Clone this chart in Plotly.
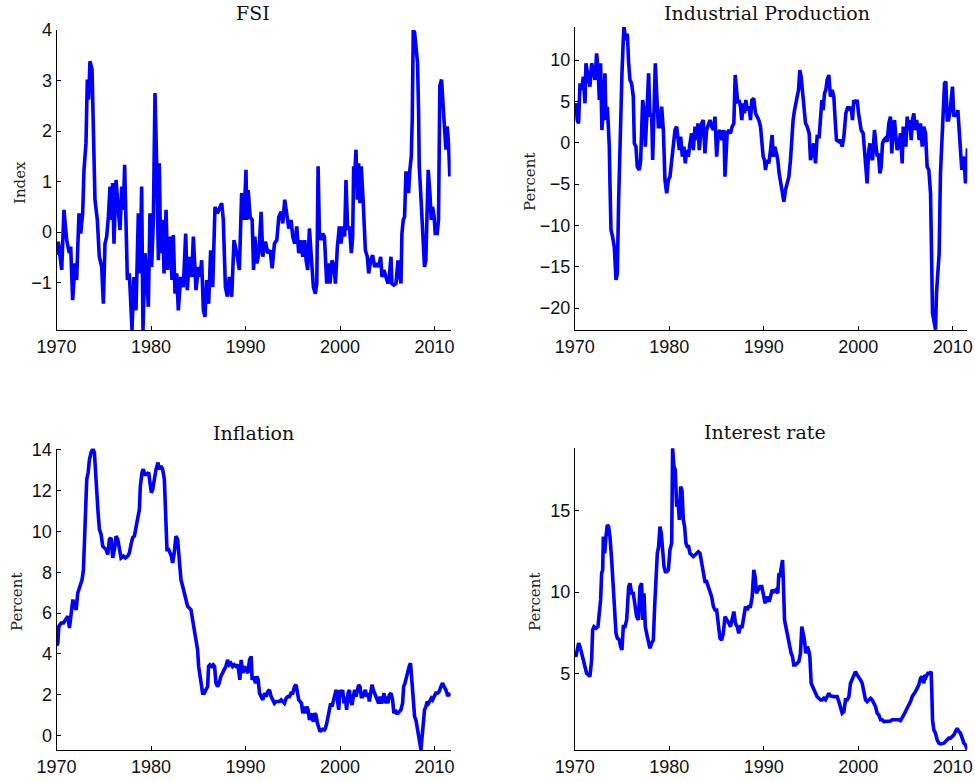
import plotly.graph_objects as go

# ---------------- data ----------------
fsi_year = [1970.0, 1970.19, 1970.55, 1970.79, 1971.08, 1971.36, 1971.5, 1971.71, 1971.96, 1972.13, 1972.38,
            1972.56, 1972.77, 1972.91, 1973.12, 1973.26, 1973.4, 1973.54, 1973.76, 1973.9, 1974.07,
            1974.32, 1974.53, 1974.78, 1974.96, 1975.13, 1975.31, 1975.49, 1975.66, 1975.84, 1975.94,
            1976.08, 1976.3, 1976.51, 1976.72, 1976.9, 1977.07, 1977.21, 1977.35, 1977.5, 1977.71,
            1977.85, 1977.99, 1978.2, 1978.41, 1978.66, 1978.84, 1979.01, 1979.15, 1979.37, 1979.54,
            1979.72, 1979.89, 1980.07, 1980.25, 1980.42, 1980.6, 1980.78, 1980.88, 1981.02, 1981.23,
            1981.38, 1981.59, 1981.76, 1982.01, 1982.22, 1982.36, 1982.54, 1982.72, 1982.89, 1983.14,
            1983.42, 1983.67, 1983.84, 1984.06, 1984.3, 1984.48, 1984.76, 1985.01, 1985.18, 1985.36,
            1985.54, 1985.71, 1985.89, 1986.1, 1986.31, 1986.53, 1986.77, 1987.02, 1987.23, 1987.48,
            1987.65, 1987.87, 1988.08, 1988.29, 1988.54, 1988.78, 1989.07, 1989.35, 1989.59, 1989.84,
            1990.05, 1990.14, 1990.28, 1990.49, 1990.7, 1990.85, 1990.99, 1991.2, 1991.41, 1991.65,
            1991.83, 1992.11, 1992.36, 1992.6, 1992.82, 1993.06, 1993.31, 1993.52, 1993.77, 1993.94,
            1994.15, 1994.37, 1994.58, 1994.82, 1995.0, 1995.21, 1995.42, 1995.63, 1995.85, 1996.06,
            1996.27, 1996.41, 1996.58, 1996.76, 1996.97, 1997.18, 1997.39, 1997.54, 1997.68, 1997.82,
            1997.99, 1998.17, 1998.35, 1998.45, 1998.59, 1998.8, 1998.94, 1999.15, 1999.37, 1999.51,
            1999.72, 1999.93, 2000.11, 2000.28, 2000.49, 2000.63, 2000.81, 2000.99, 2001.2, 2001.34,
            2001.44, 2001.58, 2001.69, 2001.83, 2001.97, 2002.11, 2002.25, 2002.46, 2002.57, 2002.68,
            2002.89, 2003.03, 2003.24, 2003.45, 2003.66, 2003.87, 2004.08, 2004.3, 2004.44, 2004.65,
            2004.86, 2005.07, 2005.21, 2005.39, 2005.49, 2005.7, 2005.92, 2006.13, 2006.27, 2006.45,
            2006.55, 2006.69, 2006.83, 2006.97, 2007.15, 2007.25, 2007.39, 2007.54, 2007.64, 2007.75,
            2007.89, 2008.03, 2008.2, 2008.31, 2008.38, 2008.52, 2008.66, 2008.8, 2008.94, 2009.08,
            2009.19, 2009.33, 2009.51, 2009.65, 2009.79, 2009.96, 2010.07, 2010.28, 2010.42, 2010.56,
            2010.74, 2010.92, 2011.09, 2011.2, 2011.34, 2011.48, 2011.62]
fsi_value = [-0.45, -0.19, -0.75, 0.44, -0.16, -0.42, -0.29, -1.35, -0.62, -0.95, 0.37,
             -0.03, 0.37, 1.23, 1.76, 3.02, 2.62, 3.38, 3.22, 2.23, 0.64,
             0.24, -0.49, -0.69, -1.42, -0.23, -0.09, 0.3, 0.9, 0.24, 0.97,
             -0.23, 1.03, 0.5, 0.04, 0.9, 0.44, 1.33, 0.24, -0.95, -0.82,
             -1.42, -1.94, -0.89, -1.55, 0.37, -0.82, 0.9, -1.94, -0.42, -1.09,
             -1.48, 0.37, -0.69, 0.24, 2.75, 1.36, -0.56, 1.36, -0.42, 0.24,
             -0.82, 0.44, -0.75, -0.09, -0.95, -0.06, -1.22, -0.82, -1.55, -0.89,
             -1.09, -0.03, -1.15, -0.49, -0.89, -0.09, -1.15, -0.69, -0.89, -0.56,
             -1.55, -1.68, -0.95, -1.42, -0.36, -1.09, 0.5, 0.37, 0.47, 0.57,
             0.24, -1.09, -1.28, -0.89, -1.28, -0.16, -0.42, -0.75, 0.77, 0.24,
             1.23, 0.24, 0.83, 0.3, 0.24, -0.75, -0.09, -0.62, -0.42, 0.4,
             -0.49, -0.19, -0.42, -0.36, -0.72, -0.23, -0.16, 0.3, 0.4, 0.17,
             0.64, 0.3, 0.07, 0.24, -0.09, -0.23, 0.11, -0.42, -0.16, -0.49,
             -0.16, -0.56, -0.75, 0.07, -0.56, -1.09, -1.22, -1.02, 1.3, -0.03,
             -0.16, -0.03, -0.09, -0.56, -1.02, -0.62, -1.02, -0.56, -0.69, -1.02,
             -0.29, 0.11, -0.23, 0.11, -0.09, 1.03, 0.04, 0.11, -0.42, -0.09,
             1.3, 1.23, 1.63, 0.64, 1.36, 0.57, 1.3, 0.57, 0.04, -0.36,
             -0.49, -0.82, -0.56, -0.46, -0.69, -0.62, -0.69, -0.49, -0.89, -0.75,
             -0.89, -1.02, -0.89, -0.49, -1.02, -1.05, -1.02, -0.56, -0.82, -1.02,
             -0.03, 0.24, 0.3, 1.17, 1.17, 0.77, 1.23, 1.5, 2.23, 4.0,
             3.95, 3.68, 3.35, 2.42, 1.3, 0.83, 0.24, -0.42, -0.69, -0.56,
             0.11, 1.23, 0.77, 0.24, 0.5, 0.3, -0.03, -0.03, 0.24, 2.89,
             3.02, 2.49, 2.03, 1.63, 2.09, 1.76, 1.1]

ip_year = [1970.0, 1970.12, 1970.26, 1970.4, 1970.55, 1970.72, 1970.9, 1971.08, 1971.18, 1971.43, 1971.6,
           1971.78, 1971.96, 1972.13, 1972.31, 1972.49, 1972.59, 1972.73, 1972.87, 1973.02, 1973.19,
           1973.3, 1973.44, 1973.55, 1973.65, 1973.72, 1973.83, 1974.0, 1974.18, 1974.36, 1974.5,
           1974.64, 1974.85, 1974.99, 1975.13, 1975.2, 1975.41, 1975.56, 1975.7, 1975.84, 1976.01,
           1976.19, 1976.3, 1976.47, 1976.61, 1976.83, 1976.97, 1977.18, 1977.32, 1977.46, 1977.6,
           1977.81, 1977.95, 1978.13, 1978.24, 1978.38, 1978.52, 1978.66, 1978.84, 1979.01, 1979.19,
           1979.37, 1979.54, 1979.72, 1979.9, 1980.07, 1980.25, 1980.42, 1980.6, 1980.78, 1980.95,
           1981.06, 1981.2, 1981.38, 1981.55, 1981.69, 1981.84, 1982.01, 1982.19, 1982.36, 1982.54,
           1982.72, 1982.9, 1983.03, 1983.17, 1983.42, 1983.6, 1983.77, 1983.95, 1984.13, 1984.3,
           1984.48, 1984.66, 1984.83, 1985.01, 1985.19, 1985.36, 1985.57, 1985.78, 1985.89, 1986.12,
           1986.3, 1986.47, 1986.65, 1986.83, 1986.97, 1987.11, 1987.25, 1987.39, 1987.53, 1987.67,
           1987.81, 1987.95, 1988.1, 1988.24, 1988.45, 1988.59, 1988.73, 1988.94, 1989.12, 1989.29,
           1989.47, 1989.65, 1989.79, 1989.93, 1990.07, 1990.18, 1990.35, 1990.53, 1990.71, 1990.88,
           1990.99, 1991.16, 1991.34, 1991.48, 1991.62, 1991.83, 1991.98, 1992.12, 1992.29, 1992.47,
           1992.65, 1992.82, 1992.96, 1993.1, 1993.25, 1993.39, 1993.53, 1993.67, 1993.81, 1993.95,
           1994.09, 1994.23, 1994.41, 1994.59, 1994.8, 1994.94, 1995.11, 1995.29, 1995.47, 1995.64,
           1995.86, 1996.0, 1996.14, 1996.28, 1996.42, 1996.56, 1996.7, 1996.88, 1997.05, 1997.23,
           1997.41, 1997.55, 1997.69, 1997.94, 1998.11, 1998.29, 1998.47, 1998.68, 1998.89, 1999.1,
           1999.24, 1999.38, 1999.52, 1999.7, 1999.88, 2000.02, 2000.16, 2000.3, 2000.51, 2000.65,
           2000.79, 2000.93, 2001.08, 2001.22, 2001.36, 2001.5, 2001.71, 2001.85, 2001.99, 2002.13,
           2002.28, 2002.42, 2002.56, 2002.7, 2002.87, 2003.05, 2003.23, 2003.4, 2003.54, 2003.69,
           2003.83, 2003.97, 2004.11, 2004.29, 2004.46, 2004.64, 2004.75, 2004.89, 2005.03, 2005.17,
           2005.31, 2005.45, 2005.59, 2005.73, 2005.87, 2006.01, 2006.16, 2006.3, 2006.44, 2006.58,
           2006.76, 2006.93, 2007.11, 2007.28, 2007.46, 2007.64, 2007.74, 2007.85, 2007.99, 2008.17,
           2008.27, 2008.41, 2008.55, 2008.69, 2008.84, 2008.98, 2009.12, 2009.26, 2009.4, 2009.54,
           2009.68, 2009.82, 2009.96, 2010.11, 2010.25, 2010.39, 2010.53, 2010.67, 2010.81, 2010.95,
           2011.09, 2011.23, 2011.34, 2011.45, 2011.55]
ip_value = [4.3, 4.76, 2.74, 2.34, 7.18, 6.37, 7.98, 4.76, 9.6, 7.58, 6.77,
            9.6, 8.79, 7.58, 10.8, 8.39, 5.16, 9.6, 1.53, 4.35, 8.39,
            2.74, 4.35, 1.94, -0.48, -4.92, -10.56, -11.4, -12.6, -16.6, -15.8,
            -6.9, 3.95, 8.39, 12.4, 14.0, 12.4, 13.2, 9.6, 7.58, 7.18,
            5.56, -0.08, -0.48, -2.9, -3.3, -2.1, 5.16, 3.95, -0.48, 2.74,
            8.39, 3.15, 3.55, -2.1, 6.77, 9.6, 5.97, 1.94, 1.94, 4.35,
            1.53, -4.52, -6.13, -4.52, -4.11, -2.1, -0.08, 1.53, 1.94, 0.32,
            -0.89, 0.73, -1.69, -0.48, -2.5, -0.89, -1.69, -0.08, 1.13, -0.89,
            1.94, 0.32, 2.34, -0.89, 2.34, 2.74, -1.29, 1.53, 2.34, 2.74,
            1.94, 1.53, 3.15, -1.69, 1.13, 1.53, 0.32, 1.53, -4.11, 1.13,
            1.53, 1.13, 1.94, 2.34, 8.19, 5.97, 4.76, 5.16, 4.35, 2.74,
            4.76, 3.55, 5.16, 3.95, 4.35, 2.74, 5.16, 5.36, 3.55, 3.15,
            2.74, 1.94, 0.32, -1.69, -2.1, -3.3, -2.1, -2.5, -0.89, 0.93,
            -1.69, -0.48, -1.29, -2.1, -3.71, -5.32, -6.13, -7.14, -5.73, -4.92,
            -4.11, -2.1, 0.73, 2.74, 3.95, 5.16, 5.56, 6.37, 8.79, 7.98,
            6.17, 4.35, 2.34, 1.94, 1.13, -2.1, -1.29, -0.08, -2.5, 0.73,
            0.73, 3.15, 5.16, 3.95, 5.97, 6.37, 7.58, 8.19, 5.56, 6.37,
            5.56, 2.74, 0.32, 0.12, 0.32, -0.48, 0.73, 3.55, 4.35, 3.95,
            4.35, 2.74, 5.16, 4.76, 5.16, 3.55, 2.74, 1.53, 1.13, -1.29,
            -2.1, -4.92, -1.29, -0.08, -1.69, -2.1, 1.53, -0.89, -1.69, -1.29,
            -3.71, -2.9, -0.08, 0.32, 0.52, 0.12, 2.34, 3.15, -1.29, 1.94,
            2.74, 0.73, -0.89, -0.08, 1.13, -2.5, 1.94, 1.13, -0.48, 3.15,
            1.53, 2.74, 0.32, 2.74, 3.55, 1.53, 2.74, 1.94, 0.32, 2.34,
            -0.48, 1.94, 1.13, -2.9, -3.3, -6.13, -11.4, -20.6, -21.5, -22.6,
            -18.2, -15.8, -13.4, -3.71, 0.73, 3.15, 7.18, 7.38, 2.74, 2.74,
            3.55, 5.16, 6.77, 3.15, 3.55, 3.15, 3.95, 1.53, -0.48, -3.3,
            -1.69, -2.5, -4.92, -2.1, -0.69]

infl_year = [1970.0, 1970.14, 1970.25, 1970.49, 1970.74, 1971.02, 1971.2, 1971.37, 1971.55, 1971.73, 1971.9,
             1972.08, 1972.25, 1972.5, 1972.71, 1972.85, 1972.96, 1973.06, 1973.2, 1973.35, 1973.49,
             1973.66, 1973.84, 1974.01, 1974.12, 1974.26, 1974.4, 1974.54, 1974.72, 1974.89, 1975.07,
             1975.25, 1975.42, 1975.6, 1975.77, 1975.95, 1976.13, 1976.3, 1976.48, 1976.65, 1976.83,
             1977.08, 1977.29, 1977.54, 1977.71, 1977.92, 1978.06, 1978.24, 1978.42, 1978.59, 1978.77,
             1978.87, 1979.05, 1979.19, 1979.33, 1979.54, 1979.75, 1979.89, 1980.04, 1980.18, 1980.35,
             1980.53, 1980.74, 1980.88, 1981.06, 1981.23, 1981.41, 1981.51, 1981.58, 1981.69, 1981.87,
             1982.01, 1982.15, 1982.29, 1982.46, 1982.64, 1982.82, 1982.99, 1983.17, 1983.35, 1983.52,
             1983.7, 1983.87, 1984.05, 1984.23, 1984.4, 1984.58, 1984.75, 1984.93, 1985.04, 1985.18,
             1985.32, 1985.46, 1985.63, 1985.81, 1985.99, 1986.09, 1986.23, 1986.44, 1986.58, 1986.73,
             1986.87, 1987.04, 1987.22, 1987.39, 1987.57, 1987.75, 1987.92, 1988.1, 1988.27, 1988.45,
             1988.63, 1988.8, 1988.98, 1989.19, 1989.4, 1989.54, 1989.72, 1989.89, 1990.07, 1990.25,
             1990.42, 1990.6, 1990.7, 1990.85, 1991.06, 1991.2, 1991.34, 1991.48, 1991.65, 1991.83,
             1992.01, 1992.18, 1992.36, 1992.54, 1992.71, 1992.89, 1993.06, 1993.24, 1993.42, 1993.59,
             1993.77, 1993.94, 1994.12, 1994.3, 1994.47, 1994.65, 1994.82, 1995.0, 1995.18, 1995.35,
             1995.53, 1995.63, 1995.77, 1995.92, 1996.06, 1996.2, 1996.34, 1996.48, 1996.62, 1996.76,
             1996.9, 1997.04, 1997.18, 1997.32, 1997.46, 1997.61, 1997.75, 1997.89, 1998.03, 1998.17,
             1998.35, 1998.45, 1998.59, 1998.73, 1998.87, 1999.01, 1999.15, 1999.3, 1999.44, 1999.58,
             1999.72, 1999.86, 2000.0, 2000.14, 2000.28, 2000.42, 2000.56, 2000.7, 2000.85, 2000.99,
             2001.13, 2001.27, 2001.41, 2001.55, 2001.69, 2001.83, 2001.97, 2002.11, 2002.25, 2002.39,
             2002.54, 2002.68, 2002.82, 2002.96, 2003.1, 2003.24, 2003.38, 2003.52, 2003.66, 2003.8,
             2003.94, 2004.08, 2004.23, 2004.37, 2004.51, 2004.65, 2004.79, 2004.93, 2005.07, 2005.21,
             2005.39, 2005.56, 2005.7, 2005.85, 2005.99, 2006.13, 2006.27, 2006.44, 2006.62, 2006.73,
             2006.87, 2007.04, 2007.18, 2007.32, 2007.46, 2007.57, 2007.68, 2007.75, 2007.89, 2008.03,
             2008.17, 2008.31, 2008.45, 2008.56, 2008.66, 2008.8, 2008.94, 2009.08, 2009.23, 2009.37,
             2009.51, 2009.65, 2009.79, 2009.96, 2010.14, 2010.32, 2010.49, 2010.67, 2010.85, 2011.02,
             2011.2, 2011.37, 2011.55, 2011.68]
infl_value = [4.4, 4.52, 5.34, 5.51, 5.51, 5.75, 5.84, 5.26, 6.0, 6.66, 6.33,
              6.16, 6.98, 7.31, 7.64, 8.13, 9.93, 10.92, 12.56, 12.89, 13.54,
              13.87, 14.07, 13.87, 12.89, 11.41, 10.92, 10.1, 9.85, 9.28, 9.2,
              9.11, 8.87, 9.61, 9.69, 8.7, 9.11, 9.77, 9.61, 9.11, 8.7,
              8.79, 8.7, 8.79, 8.95, 9.44, 9.69, 9.77, 10.26, 10.59, 11.08,
              12.23, 12.89, 13.05, 12.8, 12.8, 12.89, 12.39, 11.9, 12.07, 12.56,
              13.05, 13.38, 13.05, 13.21, 13.05, 12.56, 11.25, 9.77, 9.11, 9.11,
              8.95, 8.79, 8.46, 8.95, 9.77, 9.61, 8.62, 7.64, 7.31, 6.98,
              6.66, 6.33, 6.25, 6.16, 5.67, 5.18, 4.69, 4.2, 3.38, 2.89,
              2.39, 2.07, 2.07, 2.23, 2.39, 3.38, 3.46, 3.38, 3.46, 3.38,
              2.56, 2.39, 2.56, 2.89, 3.05, 3.21, 3.38, 3.7, 3.46, 3.54,
              3.38, 3.46, 3.38, 3.46, 2.72, 3.7, 3.05, 3.38, 3.21, 3.05,
              3.7, 3.87, 2.72, 2.89, 2.56, 2.89, 2.72, 2.07, 1.9, 1.74,
              2.07, 1.9, 2.15, 2.23, 1.9, 1.74, 1.57, 1.66, 1.66, 1.66,
              1.74, 1.66, 1.57, 1.82, 1.9, 1.9, 2.07, 2.07, 2.39, 2.48,
              2.07, 1.74, 1.66, 1.57, 1.08, 1.41, 1.08, 1.41, 1.25, 0.75,
              1.08, 0.84, 0.67, 1.08, 1.0, 0.59, 0.34, 0.18, 0.26, 0.3,
              0.26, 0.34, 0.59, 0.92, 1.41, 1.57, 1.41, 1.66, 1.9, 2.23,
              1.74, 1.25, 2.23, 1.98, 2.23, 1.57, 1.9, 1.25, 2.07, 2.23,
              1.66, 1.49, 1.9, 2.23, 1.9, 2.23, 2.48, 2.39, 1.9, 1.9,
              2.07, 2.23, 1.9, 2.07, 1.66, 2.07, 2.48, 2.23, 2.07, 1.9,
              1.74, 1.57, 1.9, 1.57, 1.74, 2.07, 1.57, 1.9, 1.57, 1.98,
              2.07, 1.74, 1.08, 1.25, 1.08, 1.08, 1.16, 1.25, 1.57, 2.39,
              2.56, 2.89, 3.21, 3.38, 3.54, 2.89, 2.72, 1.9, 0.92, 0.75,
              0.26, -0.07, -0.39, -0.72, -0.23, 0.92, 1.25, 1.41, 1.66, 1.57,
              1.66, 1.82, 1.74, 1.9, 2.07, 2.07, 2.15, 2.39, 2.56, 2.39,
              2.23, 1.98, 1.98, 2.07]

rate_year = [1970.0, 1970.12, 1970.26, 1970.41, 1970.55, 1970.72, 1970.9, 1971.08, 1971.25, 1971.43, 1971.6,
             1971.78, 1971.89, 1972.03, 1972.24, 1972.45, 1972.59, 1972.73, 1972.84, 1972.95, 1973.02,
             1973.16, 1973.3, 1973.44, 1973.58, 1973.72, 1973.9, 1974.07, 1974.25, 1974.36, 1974.5,
             1974.71, 1974.85, 1974.99, 1975.13, 1975.31, 1975.49, 1975.59, 1975.7, 1975.84, 1976.01,
             1976.19, 1976.37, 1976.54, 1976.72, 1976.9, 1977.07, 1977.18, 1977.32, 1977.46, 1977.6,
             1977.78, 1977.95, 1978.13, 1978.31, 1978.45, 1978.59, 1978.73, 1978.87, 1979.01, 1979.15,
             1979.3, 1979.44, 1979.58, 1979.72, 1979.9, 1980.07, 1980.25, 1980.35, 1980.49, 1980.63,
             1980.78, 1980.92, 1981.06, 1981.2, 1981.34, 1981.48, 1981.62, 1981.76, 1981.9, 1982.05,
             1982.19, 1982.36, 1982.54, 1982.72, 1982.9, 1983.07, 1983.25, 1983.42, 1983.6, 1983.77,
             1983.95, 1984.13, 1984.3, 1984.48, 1984.66, 1984.83, 1985.01, 1985.19, 1985.36, 1985.54,
             1985.71, 1985.89, 1986.12, 1986.3, 1986.47, 1986.65, 1986.83, 1987.0, 1987.18, 1987.35,
             1987.53, 1987.71, 1987.88, 1988.06, 1988.24, 1988.41, 1988.59, 1988.77, 1988.94, 1989.08,
             1989.22, 1989.37, 1989.58, 1989.79, 1989.93, 1990.14, 1990.35, 1990.56, 1990.71, 1990.88,
             1991.06, 1991.27, 1991.48, 1991.59, 1991.69, 1991.83, 1991.98, 1992.05, 1992.12, 1992.19,
             1992.33, 1992.47, 1992.61, 1992.75, 1992.89, 1993.03, 1993.17, 1993.35, 1993.53, 1993.7,
             1993.88, 1994.02, 1994.16, 1994.3, 1994.44, 1994.59, 1994.73, 1994.87, 1995.01, 1995.15,
             1995.29, 1995.47, 1995.64, 1995.82, 1996.0, 1996.17, 1996.35, 1996.53, 1996.7, 1996.88,
             1997.05, 1997.23, 1997.41, 1997.58, 1997.76, 1997.94, 1998.11, 1998.29, 1998.47, 1998.64,
             1998.82, 1999.0, 1999.17, 1999.35, 1999.52, 1999.7, 1999.88, 2000.05, 2000.23, 2000.41,
             2000.58, 2000.76, 2000.93, 2001.11, 2001.29, 2001.46, 2001.64, 2001.82, 2001.99, 2002.17,
             2002.35, 2002.52, 2002.7, 2002.87, 2003.05, 2003.23, 2003.4, 2003.58, 2003.76, 2003.93,
             2004.11, 2004.29, 2004.46, 2004.64, 2004.81, 2004.99, 2005.17, 2005.34, 2005.52, 2005.7,
             2005.87, 2006.05, 2006.23, 2006.4, 2006.58, 2006.76, 2006.93, 2007.04, 2007.18, 2007.35,
             2007.56, 2007.7, 2007.78, 2007.85, 2007.99, 2008.17, 2008.34, 2008.52, 2008.69, 2008.87,
             2009.05, 2009.22, 2009.4, 2009.58, 2009.75, 2009.93, 2010.11, 2010.28, 2010.46, 2010.64,
             2010.81, 2010.99, 2011.17, 2011.34, 2011.52]
rate_value = [6.2, 6.03, 6.44, 6.85, 6.64, 6.23, 5.82, 5.41, 5.0, 4.9, 4.79,
              5.82, 7.67, 7.87, 7.77, 7.87, 8.9, 9.52, 11.16, 11.37, 13.42,
              12.39, 13.42, 14.14, 14.03, 13.42, 11.98, 10.34, 8.7, 7.46, 7.16,
              7.05, 6.64, 6.44, 7.87, 7.87, 8.29, 9.52, 10.34, 10.54, 9.93,
              9.93, 9.11, 8.49, 8.29, 10.34, 10.54, 8.29, 9.93, 7.87, 7.46,
              7.05, 6.54, 6.85, 7.05, 9.11, 11.16, 12.39, 12.8, 14.03, 13.62,
              12.39, 11.57, 11.26, 11.26, 11.37, 12.6, 13.01, 18.86, 17.73, 17.53,
              15.27, 15.68, 14.45, 16.5, 16.29, 14.45, 14.03, 13.01, 12.8, 12.8,
              12.39, 12.29, 12.19, 12.29, 12.39, 12.49, 12.39, 11.78, 10.95, 10.65,
              10.65, 10.34, 10.13, 9.72, 9.11, 8.9, 8.9, 7.87, 7.16, 7.05,
              7.46, 8.49, 8.29, 8.08, 7.87, 8.29, 8.8, 8.08, 7.87, 7.46,
              7.87, 7.87, 8.49, 9.11, 8.9, 9.11, 9.11, 9.72, 11.37, 10.95,
              9.93, 10.13, 10.34, 10.34, 9.93, 9.31, 9.72, 9.41, 9.72, 10.13,
              10.03, 10.13, 9.93, 11.16, 10.95, 11.57, 11.98, 10.95, 9.11, 8.29,
              7.87, 7.46, 7.05, 6.44, 6.23, 6.03, 5.51, 5.51, 5.62, 5.72,
              6.23, 7.87, 7.46, 7.05, 6.23, 6.64, 6.44, 6.03, 4.38, 4.18,
              3.97, 3.77, 3.56, 3.46, 3.36, 3.36, 3.46, 3.36, 3.56, 3.77,
              3.6, 3.56, 3.56, 3.56, 3.56, 3.25, 2.95, 2.54, 2.64, 3.36,
              3.36, 3.56, 4.38, 4.59, 4.9, 5.1, 4.9, 4.69, 4.59, 4.38,
              3.97, 3.36, 3.25, 3.36, 3.46, 3.36, 3.15, 2.95, 2.54, 2.43,
              2.13, 2.13, 2.02, 2.02, 2.02, 2.02, 2.06, 2.13, 2.13, 2.17,
              2.13, 2.13, 2.08, 2.23, 2.43, 2.64, 2.84, 3.05, 3.25, 3.56,
              3.77, 3.87, 4.08, 4.28, 4.69, 4.79, 4.38, 4.9, 4.79, 5.0,
              5.0, 5.1, 3.77, 2.13, 1.51, 1.3, 0.89, 0.69, 0.65, 0.65,
              0.69, 0.79, 0.89, 1.0, 1.0, 1.1, 1.2, 1.41, 1.61, 1.41,
              1.3, 1.0, 0.69, 0.59, 0.3]

titles = ["FSI", "Industrial Production", "Inflation", "Interest rate"]
ylabels = ["Index", "Percent", "Percent", "Percent"]
x_ticks = [1970, 1980, 1990, 2000, 2010]
y_ticks = [[-1, 0, 1, 2, 3, 4],
           [-20, -15, -10, -5, 0, 5, 10],
           [0, 2, 4, 6, 8, 10, 12, 14],
           [5, 10, 15]]

# ---------------- layout ----------------
W, H = 975, 782
# page-pixel boxes: (left, right, top, bottom)
boxes = [(56.5, 450.7, 30, 330), (574.8, 967.3, 27, 330),
         (56.5, 450.7, 448.5, 750), (574.8, 967.3, 448, 750)]
x_ranges = [[1970, 2011.71], [1970, 2011.53], [1970, 2011.71], [1970, 2011.53]]
y_ranges = [[-1.94, 4.0], [-22.65, 13.99], [-0.72, 14.07], [0.27, 18.88]]
ylab_pos = [(20, 183), (530, 182), (17, 602), (535, 602)]
title_pos = [(253, 13), (767, 13), (253, 433), (765, 432)]


def px(x):
    return x / W


def py(y):
    return 1 - y / H


series = [(fsi_year, fsi_value), (ip_year, ip_value),
          (infl_year, infl_value), (rate_year, rate_value)]

fig = go.Figure()
tick_font = dict(family="Liberation Sans, Arial, sans-serif", size=18, color="#111")
serif = "DejaVu Serif, Liberation Serif, serif"

annotations = []
for i, ((xs, ys), box) in enumerate(zip(series, boxes)):
    n = "" if i == 0 else str(i + 1)
    fig.add_trace(go.Scatter(x=xs, y=ys, mode="lines",
                             line=dict(color="#0000ff", width=3.6),
                             xaxis="x" + n, yaxis="y" + n, showlegend=False,
                             hoverinfo="skip"))
    l, r, t, b = box
    common = dict(showline=True, linecolor="black", linewidth=1, ticks="inside",
                  ticklen=4, tickcolor="black", showgrid=False, zeroline=False,
                  mirror=False, tickfont=tick_font, automargin=False)
    fig.layout["xaxis" + n] = dict(domain=[px(l), px(r)], range=x_ranges[i],
                                   anchor="y" + n, tickvals=x_ticks,
                                   ticktext=[str(v) for v in x_ticks], **common)
    fig.layout["yaxis" + n] = dict(domain=[py(b), py(t)], range=y_ranges[i],
                                   anchor="x" + n, tickvals=y_ticks[i], **common)
    tx, ty = title_pos[i]
    annotations.append(dict(text=titles[i], x=px(tx), y=py(ty), xref="paper",
                            yref="paper", showarrow=False, xanchor="center",
                            yanchor="middle", font=dict(family=serif, size=19, color="#111")))
    lx, ly = ylab_pos[i]
    annotations.append(dict(text=ylabels[i], x=px(lx), y=py(ly), xref="paper",
                            yref="paper", showarrow=False, xanchor="center",
                            yanchor="middle", textangle=-90,
                            font=dict(family=serif, size=15, color="#222")))

fig.update_layout(width=W, height=H, margin=dict(l=0, r=0, t=0, b=0, autoexpand=False),
                  paper_bgcolor="white", plot_bgcolor="white",
                  annotations=annotations, showlegend=False, hovermode=False)

# remove the browser's default 8px page margin so the figure fills the window
fig.write_html("out.html",
               config={"displayModeBar": False, "staticPlot": True},
               post_script="document.body.style.margin='0';"
                           "document.documentElement.style.overflow='hidden';")
